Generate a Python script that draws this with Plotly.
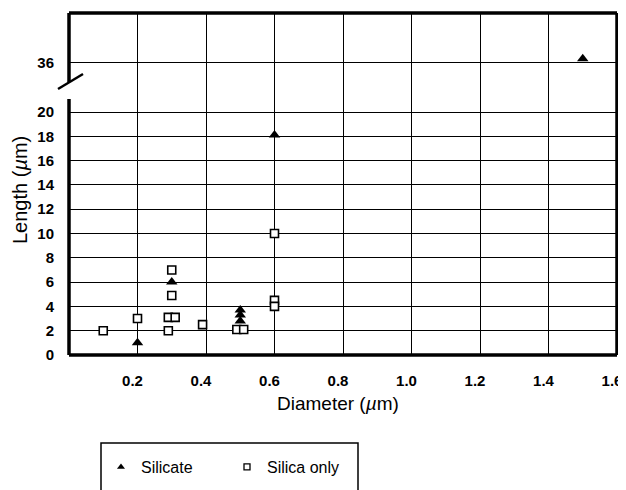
import plotly.graph_objects as go

# ---- data ----
silicate_x = [0.2, 0.3, 0.5, 0.5, 0.5, 0.6, 1.5]
silicate_y = [1.0, 6.0, 3.7, 3.3, 2.8, 18.1, 36.3]

silica_x = [0.1, 0.2, 0.3, 0.3, 0.29, 0.31, 0.29, 0.39, 0.49, 0.51, 0.6, 0.6, 0.6]
silica_y = [2.0, 3.0, 7.0, 4.9, 3.1, 3.1, 2.0, 2.5, 2.1, 2.1, 10.0, 4.5, 4.0]

x_ticks = [0.2, 0.4, 0.6, 0.8, 1.0, 1.2, 1.4, 1.6]
x_tick_labels = ["0.2", "0.4", "0.6", "0.8", "1.0", "1.2", "1.4", "1.6"]
y_low_ticks = [0, 2, 4, 6, 8, 10, 12, 14, 16, 18, 20]
y_high_ticks = [36]
y_break = 22.06

# ---- layout geometry (page pixels) ----
W, H = 626, 490
OX, OY = 8, 8          # default page body margin
L, R, T, B = 69, 617, 13, 355
pw, ph = R - L, B - T
x_range = [0, 1.6]
label_shift_px = 5     # reference tick labels sit a little left of their gridlines


def px(x):
    return (x - L) / pw


def py(y):
    return (B - y) / ph


low_top = py(87)


def split(xs, ys):
    lo = [(x, y) for x, y in zip(xs, ys) if y <= y_break]
    hi = [(x, y) for x, y in zip(xs, ys) if y > y_break]
    return lo, hi


FONT = "Arial, Liberation Sans, Helvetica, sans-serif"
fig = go.Figure()

tri = dict(symbol="triangle-up", size=10, color="black")
sq = dict(symbol="square", size=8, color="white", line=dict(color="black", width=1.6))

for xs, ys, mk in [(silica_x, silica_y, sq), (silicate_x, silicate_y, tri)]:
    lo, hi = split(xs, ys)
    if lo:
        fig.add_trace(go.Scatter(x=[p[0] for p in lo], y=[p[1] for p in lo], mode="markers",
                                 marker=mk, showlegend=False, xaxis="x", yaxis="y", cliponaxis=False))
    if hi:
        fig.add_trace(go.Scatter(x=[p[0] for p in hi], y=[p[1] for p in hi], mode="markers",
                                 marker=mk, showlegend=False, xaxis="x", yaxis="y2", cliponaxis=False))

# placeholder so the label-only x axis is drawn
fig.add_trace(go.Scatter(x=[None], y=[None], mode="markers", xaxis="x2", yaxis="y",
                         showlegend=False, hoverinfo="skip"))

# legend entries (small symbols as in the reference legend)
fig.add_trace(go.Scatter(x=[None], y=[None], mode="markers", name="Silicate",
                         marker=dict(symbol="triangle-up", size=7, color="black")))
fig.add_trace(go.Scatter(x=[None], y=[None], mode="markers", name="Silica only",
                         marker=dict(symbol="square", size=6, color="white",
                                     line=dict(color="black", width=1.3))))

grid = dict(showgrid=True, gridcolor="black", gridwidth=1.2, zeroline=False, showline=False, ticks="")
tickfont = dict(family=FONT, size=15, color="black", weight="bold")
dx = label_shift_px * (x_range[1] - x_range[0]) / pw

fig.update_layout(
    width=W - OX, height=H - OY,
    margin=dict(l=L - OX, r=W - R, t=T - OY, b=H - B, autoexpand=False),
    paper_bgcolor="white", plot_bgcolor="white",
    xaxis=dict(range=x_range, tickvals=x_ticks, showticklabels=False, anchor="y", **grid),
    # label-only axis, offset a few pixels so labels sit as in the reference
    xaxis2=dict(range=[x_range[0] + dx, x_range[1] + dx], tickvals=x_ticks, ticktext=x_tick_labels,
                tickfont=tickfont, ticklabelstandoff=15, ticklabeloverflow="allow",
                overlaying="x", anchor="y", side="bottom", showgrid=False, zeroline=False,
                showline=False, ticks=""),
    yaxis=dict(domain=[0, low_top], range=[0, y_break], tickvals=y_low_ticks, tickfont=tickfont,
               ticklabelstandoff=14, anchor="x", **grid),
    yaxis2=dict(domain=[low_top, 1], range=[34, 40], tickvals=y_high_ticks, tickfont=tickfont,
                ticklabelstandoff=14, anchor="x", **grid),
    legend=dict(orientation="h", x=px(101), y=py(450), xanchor="left", yanchor="top",
                font=dict(family=FONT, size=16, color="black"), entrywidth=81,
                bgcolor="rgba(0,0,0,0)", borderwidth=0, itemclick=False),
    showlegend=True,
)

line = dict(color="black", width=3.5)
shapes = [
    dict(type="line", xref="paper", yref="paper", x0=0, x1=1, y0=1, y1=1, line=line),
    dict(type="line", xref="paper", yref="paper", x0=1, x1=1, y0=0, y1=1, line=line),
    dict(type="line", xref="paper", yref="paper", x0=0, x1=1, y0=0, y1=0, line=line),
    dict(type="line", xref="paper", yref="paper", x0=0, x1=0, y0=1, y1=py(82), line=line),
    dict(type="line", xref="paper", yref="paper", x0=0, x1=0, y0=py(99), y1=0, line=line),
    dict(type="line", xref="paper", yref="paper", x0=px(58), x1=px(83), y0=py(89), y1=py(74),
         line=dict(color="black", width=2.5)),
    # legend frame (bottom runs off the page)
    dict(type="path", xref="paper", yref="paper",
         path=f"M {px(101)},{py(500)} L {px(101)},{py(443)} L {px(358)},{py(443)} L {px(358)},{py(500)}",
         line=dict(color="black", width=1.5)),
]
fig.update_layout(shapes=shapes)

fig.add_annotation(text="Diameter (<i>µ</i>m)", xref="paper", yref="paper", x=px(338), y=py(403),
                   xanchor="center", yanchor="middle",
                   showarrow=False, font=dict(family=FONT, size=19, color="black"))
fig.add_annotation(text="Length (<i>µ</i>m)", xref="paper", yref="paper", x=px(20), y=py(190),
                   xanchor="center", yanchor="middle",
                   showarrow=False, textangle=-90, font=dict(family=FONT, size=20, color="black"))

fig.write_html("out.html")
